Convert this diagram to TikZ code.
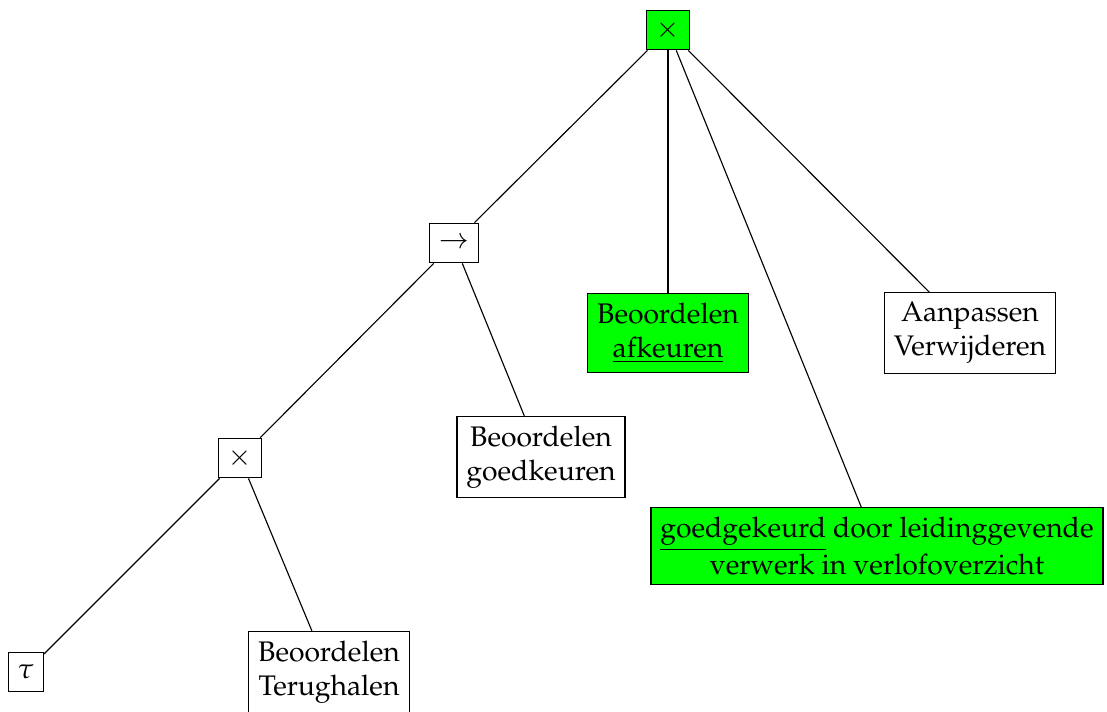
\documentclass[tikz,border=0pt]{standalone}
\usepackage[T1]{fontenc}
\usepackage{mathpazo}
\usepackage{xcolor}
\usepackage{tikz}
\definecolor{TreeGreen}{HTML}{00FF00}

\begin{document}
\begin{tikzpicture}[x=.3533pt,y=-.3533pt,
  op/.style={draw,minimum height=14pt},
  leaf/.style={draw,align=center},
  hit/.style={fill=TreeGreen}]
\useasboundingbox (0,0) rectangle (1107,711);
\node[op,hit] (root) at (668,30) {$\times$};
\node[op] (seq) at (454,243) {$\rightarrow$};
\node[op] (xorb) at (240,458) {$\times$};
\node[op] (tau) at (26,672) {$\tau$};
\node[leaf] (terug) at (329,672) {Beoordelen\\Terughalen};
\node[leaf] (goedk) at (541,457) {Beoordelen\\goedkeuren};
\node[leaf,hit] (afk) at (668,333) {Beoordelen\\\underline{afkeuren}};
\node[leaf,hit] (verw) at (877,546) {\underline{goedgekeurd} door leidinggevende\\verwerk in verlofoverzicht};
\node[leaf] (aanp) at (970,333) {Aanpassen\\Verwijderen};
\draw (root) -- (seq);
\draw (root) -- (afk);
\draw (root) -- (verw);
\draw (root) -- (aanp);
\draw (seq) -- (xorb);
\draw (seq) -- (goedk);
\draw (xorb) -- (tau);
\draw (xorb) -- (terug);
\end{tikzpicture}
\end{document}
